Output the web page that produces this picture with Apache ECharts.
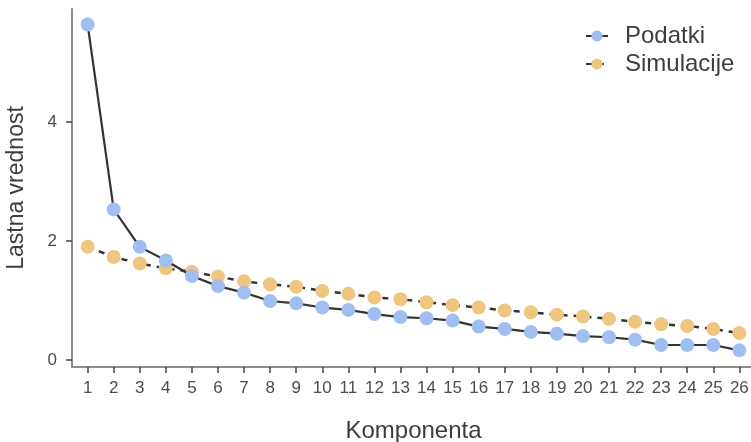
<!DOCTYPE html>
<html>
<head>
<meta charset="utf-8">
<script src="https://cdn.jsdelivr.net/npm/echarts@6/dist/echarts.min.js"></script>
<style>html,body{margin:0;padding:0;background:#fff}#c{width:751px;height:442px}</style>
</head>
<body>
<div id="c"></div>
<script>
var komponente = [1,2,3,4,5,6,7,8,9,10,11,12,13,14,15,16,17,18,19,20,21,22,23,24,25,26];
var podatki = [5.64,2.53,1.90,1.67,1.41,1.24,1.13,0.99,0.95,0.88,0.84,0.77,0.72,0.70,0.66,0.56,0.52,0.47,0.44,0.40,0.38,0.34,0.25,0.25,0.25,0.16];
var simulacije = [1.90,1.73,1.62,1.54,1.48,1.40,1.32,1.27,1.23,1.16,1.11,1.05,1.02,0.97,0.92,0.88,0.83,0.80,0.76,0.73,0.69,0.64,0.60,0.57,0.52,0.45];
var yTicks = [0,2,4];
var FONT = 'Liberation Sans, Arial, sans-serif';

function pairs(v){ return komponente.map(function(k,i){ return [k, v[i]]; }); }

var chart = echarts.init(document.getElementById('c'), null, {renderer:'canvas'});
chart.setOption({
  animation:false,
  textStyle:{fontFamily:FONT},
  grid:{left:72, right:-4, top:9, bottom:75, containLabel:false, outerBoundsMode:'none'},
  legend:{
    right:6, top:19, orient:'vertical', itemGap:4, itemWidth:22, itemHeight:14,
    textStyle:{fontSize:24, lineHeight:24, color:'#3d3d3d', fontFamily:FONT,
      width:115, padding:[0,0,0,12]},
    data:[{name:'Podatki'},{name:'Simulacije'}]
  },
  xAxis:{
    type:'value', min:0.4, max:26.6, interval:1,
    name:'Komponenta', nameLocation:'middle', nameGap:52,
    nameTextStyle:{fontSize:24, color:'#3d3d3d', fontFamily:FONT},
    axisLine:{show:true, onZero:false, lineStyle:{color:'#8c8c8c', width:2}},
    axisTick:{show:true, length:6, lineStyle:{color:'#444', width:1.5},
      customValues:komponente},
    axisLabel:{fontSize:17, color:'#4d4d4d', margin:13, customValues:komponente,
      formatter:function(v){return String(v);}},
    splitLine:{show:false}
  },
  yAxis:{
    type:'value', min:-0.12, max:5.9,
    name:'Lastna vrednost', nameLocation:'middle', nameGap:44,
    nameTextStyle:{fontSize:23, color:'#3d3d3d', fontFamily:FONT},
    axisLine:{show:true, onZero:false, lineStyle:{color:'#8c8c8c', width:2}},
    axisTick:{show:true, length:6, lineStyle:{color:'#444', width:1.5}, customValues:yTicks},
    axisLabel:{fontSize:17, color:'#4d4d4d', margin:15, customValues:yTicks},
    splitLine:{show:false}
  },
  series:[
    {
      name:'Simulacije', type:'line', data:pairs(simulacije),
      symbol:'circle', symbolSize:14, z:2,
      lineStyle:{color:'#333333', width:2.5, type:[6,6]},
      itemStyle:{color:'#efc67f', borderWidth:0}
    },
    {
      name:'Podatki', type:'line', data:pairs(podatki),
      symbol:'circle', symbolSize:14, z:3,
      lineStyle:{color:'#333333', width:2.2},
      itemStyle:{color:'#a0bff0', borderWidth:0}
    }
  ]
});
</script>
</body>
</html>
